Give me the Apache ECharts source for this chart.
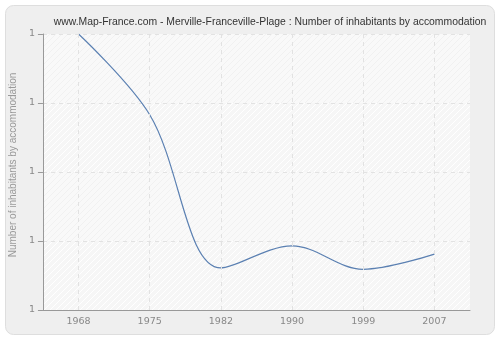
<!DOCTYPE html>
<html><head><meta charset="utf-8">
<script src="https://cdn.jsdelivr.net/npm/echarts@6/dist/echarts.min.js"></script>
<style>html,body{margin:0;padding:0;background:#fff}#c{width:500px;height:340px}</style>
</head><body><div id="c"></div>
<script>
var years = ['1968','1975','1982','1990','1999','2007'];
var values = [1.4, 1.283, 1.061, 1.093, 1.059, 1.081];
var yMin = 1.0, yMax = 1.4, yStep = 0.1;

function hatch(bg, line) {
  var c = document.createElement('canvas');
  c.width = 6; c.height = 6;
  var g = c.getContext('2d');
  g.fillStyle = bg; g.fillRect(0, 0, 6, 6);
  g.strokeStyle = line; g.lineWidth = 1;
  g.beginPath();
  g.moveTo(0, 6); g.lineTo(6, 0);
  g.moveTo(-1, 1); g.lineTo(1, -1);
  g.moveTo(5, 7); g.lineTo(7, 5);
  g.stroke();
  return {image: c, repeat: 'repeat'};
}

var gridLine = {color: '#e2e2e2', type: [4, 4], width: 1};
var chart = echarts.init(document.getElementById('c'), null, {renderer: 'canvas'});
chart.setOption({
  backgroundColor: '#ffffff',
  animation: false,
  graphic: [{
    type: 'rect', z: -10, silent: true,
    shape: {x: 5.5, y: 5.5, width: 489, height: 329, r: 8},
    style: {fill: '#efefef', stroke: '#dedede', lineWidth: 1}
  }],
  title: {
    text: 'www.Map-France.com - Merville-Franceville-Plage : Number of inhabitants by accommodation',
    left: 265, top: 12, textAlign: 'center',
    textStyle: {fontFamily: 'Liberation Sans', fontSize: 10.4, fontWeight: 'normal', color: '#333'}
  },
  grid: {left: 40, right: 30, top: 34, bottom: 30, show: true, backgroundColor: '#f8f8f8', borderWidth: 0},
  xAxis: {
    type: 'category', data: years, boundaryGap: true,
    axisLine: {lineStyle: {color: '#999'}},
    axisTick: {alignWithLabel: true, length: 5, lineStyle: {color: '#999'}},
    axisLabel: {color: '#888', fontFamily: 'DejaVu Sans', fontSize: 9.5, margin: 7},
    splitLine: {show: false}
  },
  yAxis: {
    type: 'value', min: yMin, max: yMax, interval: yStep,
    name: 'Number of inhabitants by accommodation', nameLocation: 'middle', nameGap: 23,
    nameTextStyle: {color: '#999', fontFamily: 'Liberation Sans', fontSize: 10, padding: [0, 0, 0, 14]},
    axisLine: {show: true, lineStyle: {color: '#999'}},
    axisTick: {show: true, length: 5, lineStyle: {color: '#999'}},
    axisLabel: {color: '#888', fontFamily: 'DejaVu Sans', fontSize: 9.5, margin: 8,
      formatter: function (v) { return Math.floor(v + 1e-9).toString(); }},
    splitLine: {show: true, lineStyle: gridLine},
    splitArea: {show: true, areaStyle: {color: [hatch('#f6f6f6', '#ffffff'), hatch('#f9f9f9', '#f1f1f1')]}}
  },
  series: [{
    type: 'line', data: values, smooth: 0.35, symbol: 'none',
    lineStyle: {color: '#5b80b2', width: 1.2},
    markLine: {
      silent: true, symbol: 'none', label: {show: false},
      lineStyle: gridLine,
      data: years.map(function (y) { return {xAxis: y}; })
    }
  }]
});
</script></body></html>
